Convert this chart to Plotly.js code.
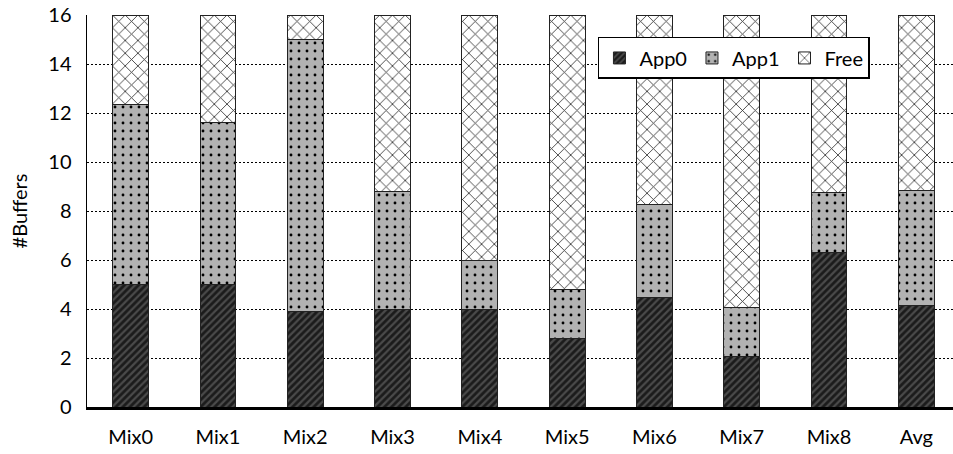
<!DOCTYPE html>
<html>
<head>
<meta charset="utf-8">
<script src="https://cdn.plot.ly/plotly-3.0.1.min.js"></script>
<style>
  html, body { margin: 0; padding: 0; background: #fff; }
  #chart { width: 953px; height: 454px; }
</style>
</head>
<body>
<div id="chart"></div>
<script>
// Buffer occupancy per workload mix (stacked to the 16-buffer total)
const categories = ["Mix0", "Mix1", "Mix2", "Mix3", "Mix4", "Mix5", "Mix6", "Mix7", "Mix8", "Avg"];
const app0 = [5.0, 5.0, 3.9, 4.0, 4.0, 2.8, 4.45, 2.05, 6.3, 4.15];
const app1 = [7.33, 6.62, 11.1, 4.8, 2.0, 2.0, 3.8, 2.02, 2.45, 4.68];
const totalBuffers = 16;
const free = app0.map((v, i) => +(totalBuffers - v - app1[i]).toFixed(2));
const yTicks = [0, 2, 4, 6, 8, 10, 12, 14, 16];

const FONT = "Lato, 'Noto Sans', sans-serif";
const outline = { color: "#222", width: 1 };

const traces = [
  {
    type: "bar", name: "App0", x: categories, y: app0,
    marker: {
      color: "#1b1b1b", line: outline,
      pattern: { shape: "/", bgcolor: "#1b1b1b", fgcolor: "#4a4a4a", size: 5, solidity: 0.45 }
    }
  },
  {
    type: "bar", name: "App1", x: categories, y: app1,
    marker: {
      color: "#b2b2b2", line: outline,
      pattern: { shape: ".", bgcolor: "#b2b2b2", fgcolor: "#000", size: 8, solidity: 0.1 }
    }
  },
  {
    type: "bar", name: "Free", x: categories, y: free,
    marker: {
      color: "#fff", line: outline,
      pattern: { shape: "x", bgcolor: "#fff", fgcolor: "#333", size: 9, solidity: 0.18 }
    }
  }
];

const layout = {
  width: 953, height: 454,
  barmode: "stack",
  bargap: 0.59,
  paper_bgcolor: "#fff", plot_bgcolor: "#fff",
  margin: { l: 87, r: 0, t: 15, b: 47 },
  font: { family: FONT, size: 20, color: "#000" },
  showlegend: true,
  legend: {
    orientation: "h",
    x: 0.59, y: 0.944, xanchor: "left", yanchor: "top",
    bgcolor: "#fff", bordercolor: "#000", borderwidth: 1.5,
    font: { family: FONT, size: 20, color: "#000" },
    itemwidth: 30, itemgap: 35,
    traceorder: "normal"
  },
  xaxis: {
    type: "category",
    range: [-0.5, 9.42],
    showline: true, linecolor: "#000", linewidth: 2.5,
    showgrid: false, zeroline: false,
    ticks: "outside", ticklen: 10, tickcolor: "rgba(0,0,0,0)",
    tickfont: { family: FONT, size: 20, color: "#000" }
  },
  yaxis: {
    range: [0, totalBuffers],
    tickvals: yTicks,
    showline: true, linecolor: "#000", linewidth: 1.5,
    showgrid: true, gridcolor: "#000", gridwidth: 1, griddash: "2px,2px",
    zeroline: false,
    ticks: "outside", ticklen: 10, tickcolor: "rgba(0,0,0,0)",
    tickfont: { family: FONT, size: 20, color: "#000" },
    title: { text: "#Buffers", font: { family: FONT, size: 20, color: "#000" }, standoff: 15 }
  }
};

Plotly.newPlot("chart", traces, layout, { staticPlot: true, displayModeBar: false });
</script>
</body>
</html>
